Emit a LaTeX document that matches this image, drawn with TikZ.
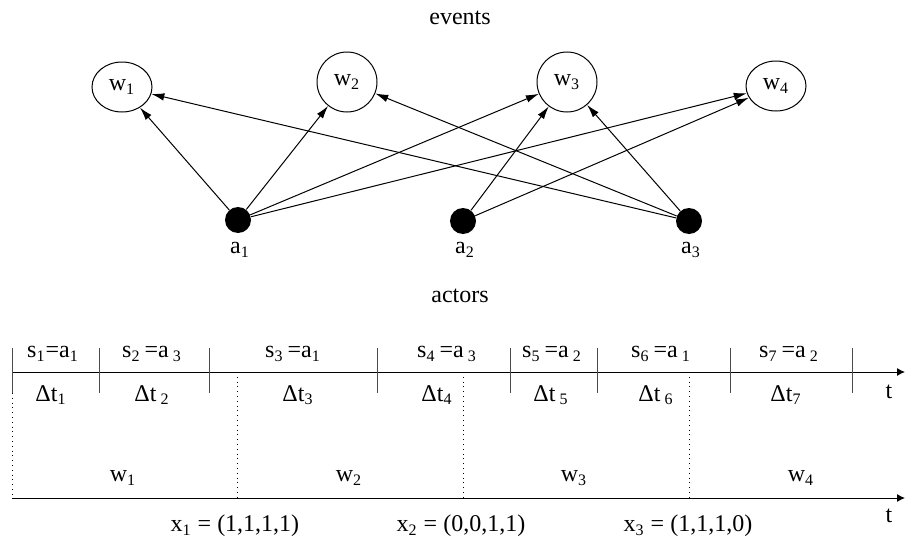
\documentclass[tikz,border=0pt]{standalone}
\usepackage{fontspec}
\setmainfont{Liberation Serif}
\usetikzlibrary{arrows.meta,shapes.geometric,positioning}
\newcommand{\lo}[1]{\textsubscript{#1}}
\tikzset{
  txt/.style={inner sep=0pt, font=\fontsize{12}{14}\selectfont},
  event/.style={draw, minimum size=30pt, inner sep=0pt, line width=0.5pt, font=\fontsize{12}{14}\selectfont},
  actor/.style={fill, circle, minimum size=13pt, inner sep=0pt},
  link/.style={-{Latex[length=6.5pt,width=3.8pt]}, line width=0.5pt},
  tick/.style={black!70, line width=0.5pt},
  axis/.style={-{Latex[length=4pt,width=4pt]}, line width=0.5pt},
}
\begin{document}
\begin{tikzpicture}[x=0.5pt, y=-0.5pt]
  \useasboundingbox (0,0) rectangle (905,546);

  % events
  \node[txt] (events) at (460,18) {events};
  \node[event, ellipse, minimum height=25pt] (w1) at (122,87) {w\lo{1}};
  \node[event, circle] (w2) at (347,82) {w\lo{2}};
  \node[event, circle] (w3) at (567,82) {w\lo{3}};
  \node[event, ellipse, minimum height=25pt] (w4) at (776,86) {w\lo{4}};

  % actors
  \node[actor] (a1) at (238,220) {};
  \node[actor] (a2) at (463,221) {};
  \node[actor] (a3) at (689,221) {};
  \node[txt] (la1) at (240,250) {a\lo{1}};
  \node[txt] (la2) at (465,250) {a\lo{2}};
  \node[txt] (la3) at (691,250) {a\lo{3}};
  \node[txt] (actors) at (460,296) {actors};

  % actor -> event
  \draw[link] (a1) -- (w1);
  \draw[link] (a1) -- (w2);
  \draw[link] (a1) -- (w3);
  \draw[link] (a1) -- (w4);
  \draw[link] (a2) -- (w3);
  \draw[link] (a2) -- (w4);
  \draw[link] (a3) -- (w1);
  \draw[link] (a3) -- (w2);
  \draw[link] (a3) -- (w3);

  % time axis with segments
  \coordinate (t0) at (12,372);
  \coordinate (t1) at (905,372);
  \draw[axis] (t0) -- (t1);
  \foreach \x in {12,99,209,377,510,597,730,852}
    \draw[tick] (\x,348) -- (\x,393);
  \node[txt] (tt) at (889,392) {t};

  \foreach \x/\lab [count=\i] in {53/s\lo{1}=a\lo{1}, 152/s\lo{2}\,=a\,\lo{3},
      293/s\lo{3}\,=a\lo{1}, 447/s\lo{4}\,=a\,\lo{3}, 552/s\lo{5}\,=a\,\lo{2},
      661/s\lo{6}\,=a\,\lo{1}, 789/s\lo{7}\,=a\,\lo{2}}
    \node[txt] (s\i) at (\x,354) {\lab};
  \foreach \x/\lab [count=\i] in {51/Δt\lo{1}, 152/Δt\,\lo{2}, 298/Δt\lo{3},
      437/Δt\lo{4}, 551/Δt\,\lo{5}, 656/Δt\,\lo{6}, 786/Δt\lo{7}}
    \node[txt] (d\i) at (\x,395) {\lab};

  % windows
  \draw[dotted] (12,393) -- (12,498);
  \foreach \x in {237,463,689}
    \draw[dotted] (\x,372) -- (\x,498);
  \coordinate (b0) at (12,498);
  \coordinate (b1) at (905,498);
  \draw[axis] (b0) -- (b1);
  \node[txt] (tb) at (889,516) {t};
  \foreach \x [count=\i] in {123,349,574,801}
    \node[txt] (ww\i) at (\x,478) {w\lo{\i}};

  % window vectors
  \node[txt] (x1) at (235,526) {x\lo{1} = (1,1,1,1)};
  \node[txt] (x2) at (461,526) {x\lo{2} = (0,0,1,1)};
  \node[txt] (x3) at (688,526) {x\lo{3} = (1,1,1,0)};
\end{tikzpicture}
\end{document}
